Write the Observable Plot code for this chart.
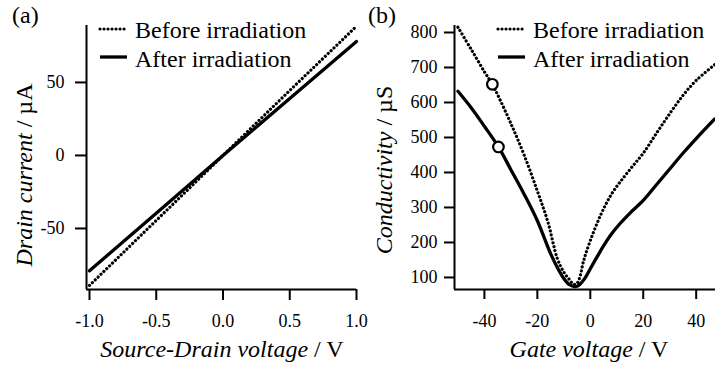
<!DOCTYPE html>
<html><head><meta charset="utf-8">
<script src="https://cdn.jsdelivr.net/npm/d3@7"></script>
<script src="https://cdn.jsdelivr.net/npm/@observablehq/plot@0.6"></script>
<style>
body{margin:0;background:#fff;}
#wrap{position:relative;width:715px;height:372px;font-family:"Liberation Serif","Times New Roman",serif;}
#wrap svg{position:absolute;top:0;overflow:visible;}
#wrap g[aria-label^="x-axis"] line, #wrap g[aria-label^="x-axis"] path,
#wrap g[aria-label^="y-axis"] line, #wrap g[aria-label^="y-axis"] path{stroke-width:2px;stroke:#000;}
</style></head><body><div id="wrap"></div>
<script>
// ---- Panel (a): I-V ----
const vSD = [-1.0, -0.5, 0.0, 0.5, 1.0];
const currentBefore = [-89, -44.5, 0, 44.5, 88.5];
const currentAfter = [-79, -39.5, 0, 39, 78];
const xTicksA = [-1.0, -0.5, 0.0, 0.5, 1.0];
const yTicksA = [-50, 0, 50];
const xDomA = [-1.0225, 1.0];
const yDomA = [-91.8, 89];

// ---- Panel (b): conductivity vs gate voltage ----
const vgBefore = [-50, -45, -40, -37, -35, -30, -25, -20, -16, -12.5, -10, -8, -7, -6, -5, -4, -2.5, 0, 4, 8, 12, 16, 20, 25, 30, 35, 40, 47];
const sigmaBefore = [815, 752, 688, 652, 622, 540, 450, 347, 258, 155, 115, 95, 85, 80, 83, 100, 148, 205, 280, 338, 380, 418, 455, 512, 568, 620, 663, 708];
const vgAfter = [-50, -45, -40, -34.7, -30, -25, -20, -15, -12, -10, -8, -6, -5, -4, -2, 0, 2.5, 5, 8, 11, 15, 20, 25, 30, 35, 40, 47];
const sigmaAfter = [632, 585, 532, 473, 408, 338, 262, 168, 122, 97, 80, 74, 75, 80, 98, 125, 158, 190, 224, 252, 284, 320, 365, 410, 455, 497, 553];
const markVg = [-37, -34.7];
const markSigma = [652, 473];
const xTicksB = [-40, -20, 0, 20, 40];
const yTicksB = [100, 200, 300, 400, 500, 600, 700, 800];
const xDomB = [-51.3, 47.3];
const yDomB = [65.6, 820];

const legendLabels = ["Before irradiation", "After irradiation"];
const FONT = '"Liberation Serif","Times New Roman",serif';
const DOTS = "0.01,4";

const dataA = vSD.map((v, i) => ({v, before: currentBefore[i], after: currentAfter[i]}));
const dataBb = vgBefore.map((x, i) => ({x, y: sigmaBefore[i]}));
const dataBa = vgAfter.map((x, i) => ({x, y: sigmaAfter[i]}));
const dataBm = markVg.map((x, i) => ({x, y: markSigma[i]}));

const style = {fontFamily: FONT, fontSize: "18px", color: "#000", background: "transparent", overflow: "visible"};

const plotA = Plot.plot({
  width: 360, height: 372, marginLeft: 86, marginRight: 4, marginTop: 25, marginBottom: 83,
  style,
  x: {domain: xDomA, ticks: xTicksA, tickFormat: d => d.toFixed(1), tickSize: 11, tickPadding: 14, label: null},
  y: {domain: yDomA, ticks: yTicksA, tickFormat: d => String(d), tickSize: 11, tickPadding: 11, label: null},
  marks: [
    Plot.ruleX([xDomA[0]], {stroke: "#000", strokeWidth: 2}),
    Plot.ruleY([yDomA[0]], {stroke: "#000", strokeWidth: 2}),
    Plot.line(dataA, {x: "v", y: "before", stroke: "#000", strokeWidth: 3.2, strokeDasharray: DOTS}),
    Plot.line(dataA, {x: "v", y: "after", stroke: "#000", strokeWidth: 3.3})
  ]
});

const plotB = Plot.plot({
  width: 355, height: 372, marginLeft: 94, marginRight: 0, marginTop: 25, marginBottom: 83,
  style,
  x: {domain: xDomB, ticks: xTicksB, tickFormat: d => String(d), tickSize: 10, tickPadding: 15, label: null},
  y: {domain: yDomB, ticks: yTicksB, tickFormat: d => String(d), tickSize: 10, tickPadding: 7, label: null},
  marks: [
    Plot.ruleX([xDomB[0]], {stroke: "#000", strokeWidth: 2}),
    Plot.ruleY([yDomB[0]], {stroke: "#000", strokeWidth: 2}),
    Plot.line(dataBb, {x: "x", y: "y", stroke: "#000", strokeWidth: 3.2, strokeDasharray: DOTS, curve: "catmull-rom"}),
    Plot.line(dataBa, {x: "x", y: "y", stroke: "#000", strokeWidth: 3.3, curve: "catmull-rom"}),
    Plot.dot(dataBm, {x: "x", y: "y", r: 5.3, stroke: "#000", strokeWidth: 2.2, fill: "#fff"})
  ]
});

const wrap = document.getElementById("wrap");
plotA.style.left = "0px";
plotB.style.left = "360px";
wrap.appendChild(plotA);
wrap.appendChild(plotB);

function decorate(svg, o) {
  const s = d3.select(svg);
  s.append("text").attr("x", o.labX).attr("y", 23).attr("text-anchor", "start")
    .attr("font-family", FONT).attr("font-size", 24).attr("fill", "#000").text(o.panel);
  const xt = s.append("text").attr("x", o.xtX).attr("y", 357).attr("text-anchor", "middle")
    .attr("font-family", FONT).attr("font-size", 24).attr("fill", "#000");
  xt.append("tspan").attr("font-style", "italic").text(o.xTitle);
  xt.append("tspan").text(" / V");
  const yt = s.append("text").attr("transform", `translate(${o.ytX},${o.ytY}) rotate(-90)`).attr("text-anchor", "middle")
    .attr("font-family", FONT).attr("font-size", 24).attr("fill", "#000");
  yt.append("tspan").attr("font-style", "italic").text(o.yTitle);
  yt.append("tspan").text(o.yUnit);
  const rows = [{y: 29, base: 38, dash: DOTS, w: 3.2}, {y: 57, base: 66.5, dash: null, w: 3.3}];
  rows.forEach((r, i) => {
    const ln = s.append("line").attr("x1", o.legX).attr("x2", o.legX + 27).attr("y1", r.y).attr("y2", r.y)
      .attr("stroke", "#000").attr("stroke-width", r.w).attr("stroke-linecap", r.dash ? "round" : "butt");
    if (r.dash) ln.attr("stroke-dasharray", r.dash);
    s.append("text").attr("x", o.legX + 35).attr("y", r.base).attr("text-anchor", "start")
      .attr("font-family", FONT).attr("font-size", 24).attr("fill", "#000").text(legendLabels[i]);
  });
}

decorate(plotA, {panel: "(a)", labX: 12, xtX: 222, xTitle: "Source-Drain voltage", ytX: 32, ytY: 175, yTitle: "Drain current", yUnit: " / µA", legX: 100});
decorate(plotB, {panel: "(b)", labX: 8, xtX: 229, xTitle: "Gate voltage", ytX: 32, ytY: 170, yTitle: "Conductivity", yUnit: " / µS", legX: 138});
</script></body></html>
